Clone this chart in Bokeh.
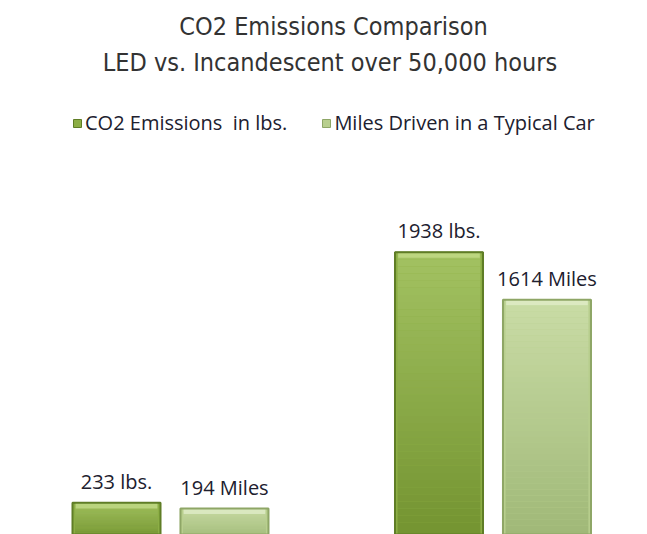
from bokeh.plotting import figure
from bokeh.models import Range1d, ColumnDataSource, LabelSet, Label, Legend, LegendItem
from bokeh.core.properties import value
from bokeh.embed import file_html
from bokeh.resources import INLINE

# ---- data ----
title_lines = ["CO2 Emissions Comparison", "LED vs. Incandescent  over 50,000 hours"]
groups = ["LED", "Incandescent"]
series_names = ["CO2 Emissions  in lbs.", "Miles Driven in a Typical Car"]
co2_lbs = [233, 1938]
miles_driven = [194, 1614]
label_suffix = [" lbs.", " Miles"]

# ---- styles ----
TITLE_FONT = "DejaVu Sans Condensed"
TEXT_FONT = "Open Sans"
TEXT_COLOR = "#20202e"
series_values = [co2_lbs, miles_driven]
top_colors = ["#a3c262", "#cadca6"]
bottom_colors = ["#739330", "#9fb877"]
mid_colors = ["#8cae45", "#b8cf8e"]
edge_colors = ["#5f7d26", "#8ea666"]
hi_colors = ["#c4dc8a", "#e2eecb"]
offsets = [-0.1674, 0.1674]
BAR_W = 0.2729
N_SLICES = 40
BEVEL = 38

W, H = 647, 534
p = figure(width=W, height=H, output_backend="svg", toolbar_location=None,
           x_range=Range1d(-0.5271, 1.4791), y_range=Range1d(17.3, 3650.0),
           min_border=0, min_border_left=0, min_border_right=0,
           min_border_top=0, min_border_bottom=0)
p.xaxis.visible = False
p.yaxis.visible = False
p.xgrid.visible = False
p.ygrid.visible = False
p.outline_line_color = None
p.background_fill_color = "white"
p.border_fill_color = "white"


def hex2rgb(h):
    h = h.lstrip("#")
    return tuple(int(h[i:i + 2], 16) for i in (0, 2, 4))


def mix(c0, c1, t):
    a, b = hex2rgb(c0), hex2rgb(c1)
    return "#%02x%02x%02x" % tuple(int(round(a[i] * (1 - t) + b[i] * t)) for i in range(3))


legend_items = []
for s, vals in enumerate(series_values):
    xs = [i + offsets[s] for i in range(len(groups))]
    src = ColumnDataSource(dict(x=xs, top=vals, hi_bottom=[v - BEVEL for v in vals],
                                text=[f"{v}{label_suffix[s]}" for v in vals]))
    base = p.vbar(x="x", top="top", bottom=0, width=BAR_W, source=src,
                  fill_color=mid_colors[s], line_color=edge_colors[s], line_width=1)
    legend_items.append(LegendItem(label=series_names[s], renderers=[base]))

    # vertical gradient built from slices of each bar
    sx, sb, st, sc = [], [], [], []
    for i, v in enumerate(vals):
        for k in range(N_SLICES):
            t = (k + 0.5) / N_SLICES
            sx.append(xs[i])
            sb.append(v * k / N_SLICES)
            st.append(v * (k + 1) / N_SLICES)
            sc.append(mix(bottom_colors[s], top_colors[s], t))
    p.vbar(x=sx, bottom=sb, top=st, width=BAR_W - 0.016, fill_color=sc, line_color=None)

    # bevel: top highlight and darker edge
    p.vbar(x="x", top="top", bottom="hi_bottom", width=BAR_W - 0.02, source=src,
           fill_color=hi_colors[s], fill_alpha=0.75, line_color=None)
    p.vbar(x="x", top="top", bottom=0, width=BAR_W, source=src,
           fill_alpha=0, line_color=edge_colors[s], line_width=2)

    labels = LabelSet(x="x", y="top", text="text", source=src, text_align="center",
                      text_baseline="alphabetic", y_offset=14,
                      text_font=value(TEXT_FONT), text_font_size="20px",
                      text_color=TEXT_COLOR)
    p.add_layout(labels)

legend = Legend(items=legend_items, orientation="horizontal", location=(72, 398),
                glyph_width=10, glyph_height=10, label_standoff=3, spacing=34,
                padding=0, margin=0, border_line_color=None, background_fill_alpha=0,
                label_text_font=TEXT_FONT, label_text_font_size="20px",
                label_text_color=TEXT_COLOR)
p.add_layout(legend)

for j, (line, ypos) in enumerate(zip(title_lines, [H - 26, H - 62])):
    p.add_layout(Label(x=333, y=ypos, x_units="screen", y_units="screen", text=line,
                       text_align="center", text_baseline="middle",
                       text_font=TITLE_FONT, text_font_size="25px",
                       text_color="#333333"))

open("out.html", "w").write(file_html(p, INLINE))
